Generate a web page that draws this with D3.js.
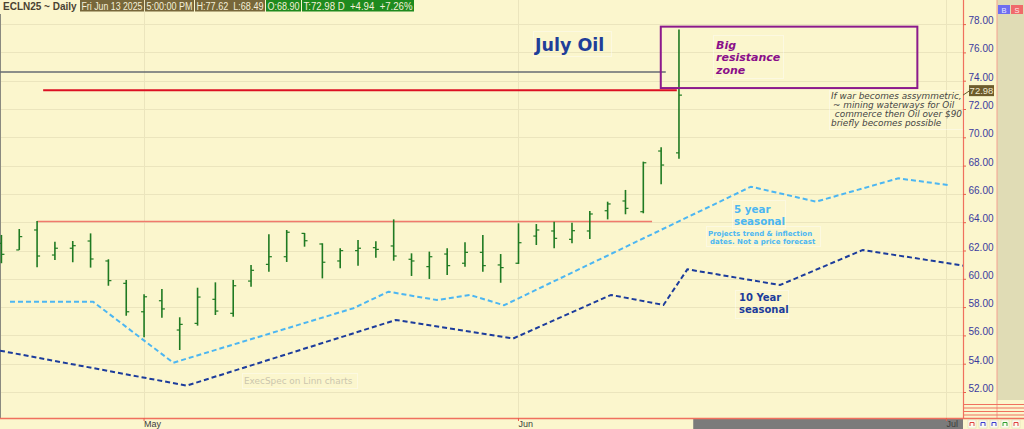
<!DOCTYPE html>
<html>
<head>
<meta charset="utf-8">
<script src="https://cdn.jsdelivr.net/npm/d3@7"></script>
<style>
  body { margin: 0; background: #fbf6cd; overflow: hidden; }
  svg { display: block; }
</style>
</head>
<body>
<svg width="1024" height="429"></svg>
<script>
// ---- data ----
const dates = ["Apr 21","Apr 22","Apr 23","Apr 24","Apr 25","Apr 28","Apr 29","Apr 30",
  "May 1","May 2","May 5","May 6","May 7","May 8","May 9","May 12","May 13","May 14","May 15","May 16",
  "May 19","May 20","May 21","May 22","May 23","May 27","May 28","May 29","May 30",
  "Jun 2","Jun 3","Jun 4","Jun 5","Jun 6","Jun 9","Jun 10","Jun 11","Jun 12","Jun 13"];
const opens  = [62.50,62.04,63.45,61.68,62.16,62.67,61.26,59.68,57.67,58.45,56.38,56.85,58.55,57.56,59.84,61.02,61.56,63.21,62.46,61.26,
  61.99,62.20,62.32,61.38,60.86,61.75,61.10,61.87,60.98,61.10,63.02,63.38,62.79,63.38,64.81,65.50,64.74,69.03,68.90];
const highs  = [63.10,63.52,64.08,62.62,62.67,63.21,61.38,59.92,58.90,59.28,57.28,59.37,59.75,59.92,60.98,63.14,63.45,63.24,62.51,62.16,
  62.74,62.65,64.20,61.80,61.92,62.16,62.58,63.10,61.75,63.92,63.87,64.04,63.96,64.79,65.45,66.28,68.28,69.29,77.62];
const lows   = [61.10,62.04,60.81,61.33,61.17,60.79,59.51,57.39,55.87,57.25,54.97,56.69,57.44,57.32,59.44,60.50,61.19,62.27,60.03,60.74,
  60.93,61.49,61.28,60.20,59.99,60.27,60.86,60.50,59.72,61.05,62.39,62.16,62.51,62.81,64.20,64.56,64.63,66.68,68.49];
const closes = [61.73,62.98,61.61,62.16,62.34,61.40,59.87,57.67,58.73,57.87,56.78,58.71,57.72,59.51,60.60,61.56,63.29,62.69,61.17,61.99,
  62.16,62.08,61.61,61.26,61.56,60.93,61.87,60.93,60.79,62.55,63.45,62.86,63.40,64.58,65.29,64.98,68.20,68.04,72.98];

// seasonal projections: [trading-day index, level]
const seasonal5  = [[0.48,58.38],[5.14,58.38],[9.64,54.07],[19.74,57.92],[21.7,59.09],[24.42,58.5],[26.28,58.86],
  [28.19,58.13],[42.04,66.51],[45.69,65.45],[50.3,67.1],[53.08,66.63]];
const seasonal10 = [[-0.08,54.92],[10.39,52.45],[22.12,57.09],[28.7,55.78],[34.19,58.86],[37.13,58.15],[38.47,60.67],
  [43.67,59.56],[48.31,62.04],[53.93,60.93]];

const priceTicks = d3.range(52, 78.01, 2);
const monthLabels = [["May", 8], ["Jun", 29], ["Jul", 53]];

// drawn levels
const greyLevel = { from: -0.08, to: 37.26, value: 74.61 };
const redLevel = { from: 2.34, to: 37.88, value: 73.32 };
const supportLevel = { from: 2, to: 36.49, value: 64.05 };
const resistanceZone = { from: 36.98, to: 51.37, low: 73.48, high: 77.82 };

// ---- chart ----
const svg = d3.select("svg");
const width = +svg.attr("width");
const height = +svg.attr("height");
const plotRight = 963;
const plotBottom = 418;

const x = d3.scaleLinear().domain([-0.08, 53.93]).range([0, plotRight]);
const y = d3.scaleLinear().domain([52, 78]).range([392, 24.1]);

svg.append("rect").attr("width", width).attr("height", height).attr("fill", "#fbf6cd");

// grid
svg.append("g").selectAll("line")
  .data(priceTicks)
  .join("line")
  .attr("x1", 0).attr("x2", plotRight)
  .attr("y1", d => Math.round(y(d)) + 0.5).attr("y2", d => Math.round(y(d)) + 0.5)
  .attr("stroke", "#ebe5bd").attr("stroke-width", 1);

svg.append("g").selectAll("line")
  .data(monthLabels)
  .join("line")
  .attr("x1", d => Math.round(x(d[1])) + 0.5).attr("x2", d => Math.round(x(d[1])) + 0.5)
  .attr("y1", 0).attr("y2", plotBottom)
  .attr("stroke", "#ebe5bd");

// future area on time axis
const lastIdx = dates.length - 1;
svg.append("rect")
  .attr("x", x(lastIdx + 0.8)).attr("y", plotBottom)
  .attr("width", plotRight - x(lastIdx + 0.8)).attr("height", height - plotBottom)
  .attr("fill", "#7b7b7b");

// left border
svg.append("line").attr("x1", 0.5).attr("x2", 0.5).attr("y1", 14).attr("y2", plotBottom)
  .attr("stroke", "#8a8a80");

// faint annotation boxes
const noteBoxes = [[533, 31, 78, 25], [713, 35, 70, 43], [829, 90, 135, 39], [732, 200, 53, 28],
  [706, 226, 114, 20], [735, 290, 53, 28], [242, 373, 115, 15]];
svg.append("g").selectAll("rect")
  .data(noteBoxes)
  .join("rect")
  .attr("x", d => d[0] + 0.5).attr("y", d => d[1] + 0.5)
  .attr("width", d => d[2]).attr("height", d => d[3])
  .attr("fill", "none").attr("stroke", "#ffffff").attr("stroke-width", 0.8)
  .attr("stroke-dasharray", "1,1");

// seasonal lines
const line = d3.line().x(d => x(d[0])).y(d => y(d[1]));
svg.append("path").datum(seasonal10).attr("d", line)
  .attr("fill", "none").attr("stroke", "#1c3c9c").attr("stroke-width", 2)
  .attr("stroke-dasharray", "5,3");
svg.append("path").datum(seasonal5).attr("d", line)
  .attr("fill", "none").attr("stroke", "#4cb6f2").attr("stroke-width", 2)
  .attr("stroke-dasharray", "5,3");

// level lines
svg.append("line")
  .attr("x1", x(greyLevel.from)).attr("x2", x(greyLevel.to))
  .attr("y1", y(greyLevel.value)).attr("y2", y(greyLevel.value))
  .attr("stroke", "#666b72").attr("stroke-width", 1.4);
svg.append("line")
  .attr("x1", x(redLevel.from)).attr("x2", x(redLevel.to))
  .attr("y1", y(redLevel.value)).attr("y2", y(redLevel.value))
  .attr("stroke", "#dc1022").attr("stroke-width", 2);
svg.append("line")
  .attr("x1", x(supportLevel.from)).attr("x2", x(supportLevel.to))
  .attr("y1", y(supportLevel.value)).attr("y2", y(supportLevel.value))
  .attr("stroke", "#f07a6c").attr("stroke-width", 1.6);

// OHLC bars
const bars = dates.map((d, i) => ({ date: d, i, o: opens[i], h: highs[i], l: lows[i], c: closes[i] }));
const barG = svg.append("g").attr("stroke", "#1f7a22").attr("stroke-width", 1.6);
barG.selectAll("line.hl").data(bars).join("line").attr("class", "hl")
  .attr("x1", d => x(d.i)).attr("x2", d => x(d.i))
  .attr("y1", d => y(d.h)).attr("y2", d => y(d.l));
barG.selectAll("line.op").data(bars).join("line").attr("class", "op")
  .attr("x1", d => x(d.i) - 3).attr("x2", d => x(d.i))
  .attr("y1", d => y(d.o)).attr("y2", d => y(d.o)).attr("stroke-width", 1.2);
barG.selectAll("line.cl").data(bars).join("line").attr("class", "cl")
  .attr("x1", d => x(d.i)).attr("x2", d => x(d.i) + 3)
  .attr("y1", d => y(d.c)).attr("y2", d => y(d.c)).attr("stroke-width", 1.2);

// resistance zone
svg.append("rect")
  .attr("x", x(resistanceZone.from)).attr("y", y(resistanceZone.high))
  .attr("width", x(resistanceZone.to) - x(resistanceZone.from))
  .attr("height", y(resistanceZone.low) - y(resistanceZone.high))
  .attr("fill", "none").attr("stroke", "#8c1a8c").attr("stroke-width", 2);

// annotation text
const font = "'DejaVu Sans', Verdana, sans-serif";
svg.append("text").attr("x", 535).attr("y", 51).text("July Oil")
  .attr("font-family", font).attr("font-weight", "bold").attr("font-size", 17.5).attr("fill", "#1f3e99");

svg.append("g").selectAll("text")
  .data(["Big", "resistance", "zone"])
  .join("text")
  .attr("x", 716).attr("y", (d, i) => 48.5 + i * 12.6)
  .text(d => d)
  .attr("font-family", font).attr("font-weight", "bold").attr("font-style", "italic")
  .attr("font-size", 11).attr("fill", "#8a0f8a");

svg.append("g").selectAll("text")
  .data(["If war becomes assymmetric,", "~ mining waterways for Oil", " commerce then Oil over $90", "briefly becomes possible"])
  .join("text")
  .attr("x", (d, i) => [831, 833, 832, 831][i]).attr("y", (d, i) => 99 + i * 8.9)
  .attr("xml:space", "preserve")
  .text(d => d)
  .attr("font-family", font).attr("font-style", "italic")
  .attr("font-size", 8.9).attr("fill", "#454545");

svg.append("g").selectAll("text")
  .data(["5 year", "seasonal"])
  .join("text")
  .attr("x", 734).attr("y", (d, i) => 213 + i * 12)
  .text(d => d)
  .attr("font-family", font).attr("font-weight", "bold").attr("font-size", 10.3).attr("fill", "#4cb6f2");
svg.append("g").selectAll("text")
  .data(["Projects trend & inflection", "dates. Not a price forecast"])
  .join("text")
  .attr("x", (d, i) => i ? 710 : 708).attr("y", (d, i) => 235.5 + i * 8.4)
  .text(d => d)
  .attr("font-family", font).attr("font-weight", "bold").attr("font-size", 7).attr("fill", "#4cb6f2");

svg.append("g").selectAll("text")
  .data(["10 Year", "seasonal"])
  .join("text")
  .attr("x", 739).attr("y", (d, i) => 301 + i * 12)
  .text(d => d)
  .attr("font-family", font).attr("font-weight", "bold").attr("font-size", 10).attr("fill", "#1c3c9c");

svg.append("text").attr("x", 244).attr("y", 384).text("ExecSpec on Linn charts")
  .attr("font-family", font).attr("font-size", 8.9).attr("fill", "#cbc6ae");

// ---- price axis ----
const axisFont = "'Liberation Sans', Arial, sans-serif";
svg.append("rect").attr("x", 997).attr("y", 0).attr("width", 27).attr("height", 400).attr("fill", "#e0dcb5");
svg.append("line").attr("x1", plotRight + 0.5).attr("x2", plotRight + 0.5).attr("y1", 0).attr("y2", plotBottom)
  .attr("stroke", "#f0705e").attr("stroke-width", 1.2);
svg.append("line").attr("x1", 997).attr("x2", 997).attr("y1", 0).attr("y2", plotBottom)
  .attr("stroke", "#f4a090").attr("stroke-width", 1);

const yAxis = svg.append("g").attr("transform", `translate(${plotRight},0)`)
  .call(d3.axisRight(y).tickValues(priceTicks).tickSize(3).tickFormat(d3.format(".2f")));
yAxis.select(".domain").remove();
yAxis.selectAll(".tick line").attr("stroke", "#e8604e");
yAxis.selectAll(".tick text").attr("x", 5.5).attr("dy", "-0.05em")
  .attr("font-family", axisFont).attr("font-size", 10).attr("fill", "#3a3a9e");

// last price flag
const last = bars[lastIdx];
svg.append("line").attr("x1", plotRight).attr("x2", 969).attr("y1", y(last.c)).attr("y2", y(last.c) - 4)
  .attr("stroke", "#6a5a30");
svg.append("rect").attr("x", 969).attr("y", y(last.c) - 10).attr("width", 25).attr("height", 11)
  .attr("fill", "#6e5c2c");
svg.append("text").attr("x", 981.5).attr("y", y(last.c) - 1.5).attr("text-anchor", "middle")
  .text(d3.format(".2f")(last.c))
  .attr("font-family", axisFont).attr("font-size", 9.5).attr("fill", "#f2ead0");

// B / S buttons
svg.append("rect").attr("x", 998).attr("y", 5).attr("width", 12).attr("height", 9).attr("fill", "#6e6ef0");
svg.append("rect").attr("x", 1011).attr("y", 5).attr("width", 12).attr("height", 9).attr("fill", "#f06a6a");
svg.append("text").attr("x", 1004).attr("y", 12.5).attr("text-anchor", "middle").text("B")
  .attr("font-family", axisFont).attr("font-size", 7.5).attr("fill", "#e8e8ff");
svg.append("text").attr("x", 1017).attr("y", 12.5).attr("text-anchor", "middle").text("S")
  .attr("font-family", axisFont).attr("font-size", 7.5).attr("fill", "#ffe8e8");

// bottom-right red rules
svg.append("g").selectAll("line")
  .data([404.5, 408, 411.5, 415])
  .join("line")
  .attr("x1", plotRight).attr("x2", width).attr("y1", d => d).attr("y2", d => d)
  .attr("stroke", "#f0705e").attr("stroke-width", 1);

// ---- time axis ----
svg.append("line").attr("x1", 0).attr("x2", width).attr("y1", plotBottom + 0.5).attr("y2", plotBottom + 0.5)
  .attr("stroke", "#f0705e").attr("stroke-width", 1.6);
svg.append("g").selectAll("line")
  .data(monthLabels)
  .join("line")
  .attr("x1", d => x(d[1])).attr("x2", d => x(d[1]))
  .attr("y1", plotBottom).attr("y2", plotBottom + 3)
  .attr("stroke", "#e8604e");
svg.append("g").selectAll("text")
  .data(monthLabels)
  .join("text")
  .attr("x", d => x(d[1])).attr("y", 427)
  .text(d => d[0])
  .attr("font-family", axisFont).attr("font-size", 9).attr("fill", "#3c3c3c");

// small toolbar icons
const iconColors = ["#e04040", "#3a3ad0", "#3a3ad0", "#30a030", "#e04040"];
const icons = svg.append("g").selectAll("g").data(iconColors).join("g")
  .attr("transform", (d, i) => `translate(${968 + i * 11},420)`);
icons.append("rect").attr("width", 8).attr("height", 8).attr("fill", "#fbfbf0").attr("stroke", "#d8d4b0").attr("stroke-width", 0.5);
icons.append("path").attr("d", "M2,6 V2.5 H6 V6").attr("fill", "none").attr("stroke", d => d).attr("stroke-width", 1);

// ---- header ----
const hdrFont = "'Liberation Sans', Arial, sans-serif";
svg.append("text").attr("x", 3).attr("y", 9.5).text("ECLN25 ~ Daily")
  .attr("font-family", hdrFont).attr("font-weight", "bold").attr("font-size", 10).attr("fill", "#4a4232");
const chg = last.c - bars[lastIdx - 1].c;
const header = [
  { t: "Fri Jun 13 2025", x: 80, w: 64, f: "#77673a" },
  { t: "5:00:00 PM", x: 145, w: 49, f: "#77673a" },
  { t: `H:${last.h.toFixed(2)}  L:${last.l.toFixed(2)}`, x: 195, w: 70, f: "#77673a" },
  { t: `O:${last.o.toFixed(2)}`, x: 266, w: 35, f: "#1e8a1e" },
  { t: `T:${last.c.toFixed(2)} D  +${chg.toFixed(2)}  +${(chg / bars[lastIdx - 1].c * 100).toFixed(2)}%`, x: 302, w: 112, f: "#1e8a1e" }
];
const hg = svg.append("g").selectAll("g").data(header).join("g");
hg.append("rect").attr("x", d => d.x).attr("y", 0).attr("width", d => d.w).attr("height", 11.5).attr("fill", d => d.f);
hg.append("text").attr("x", d => d.x + 1.5).attr("y", 9.5)
  .attr("xml:space", "preserve")
  .text(d => d.t)
  .attr("font-family", hdrFont).attr("font-size", 10).attr("fill", "#f4efd8")
  .attr("textLength", d => d.w - 3).attr("lengthAdjust", "spacingAndGlyphs");
</script>
</body>
</html>
